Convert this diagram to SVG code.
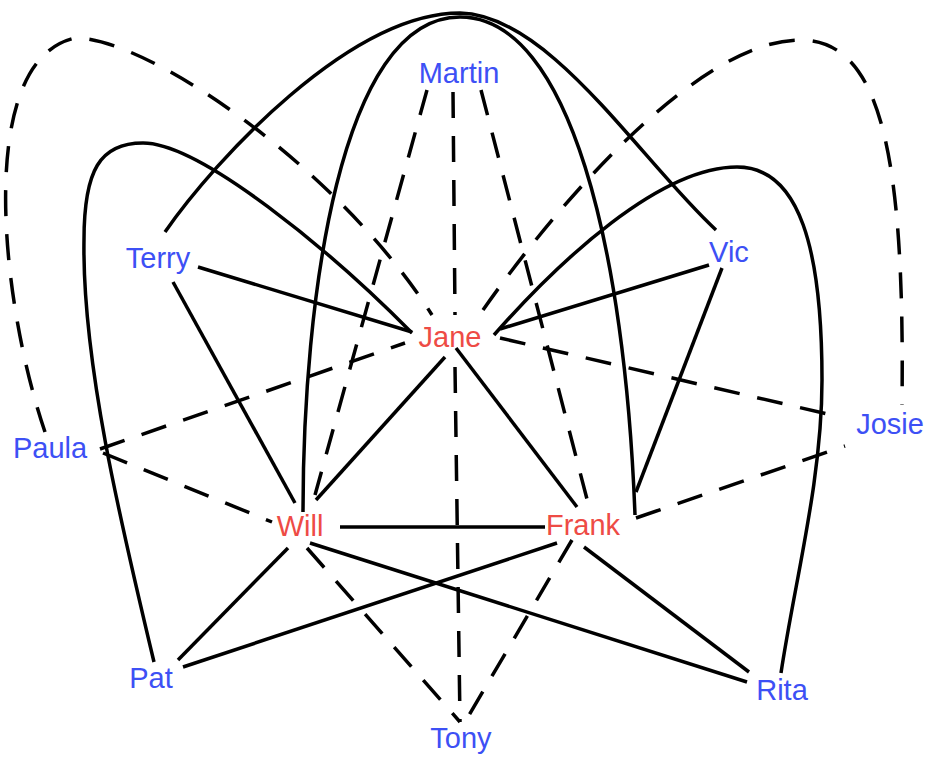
<svg xmlns="http://www.w3.org/2000/svg" width="928" height="758" viewBox="0 0 928 758">
<style>
.e{stroke:#000;stroke-width:3.5;fill:none}
.d{stroke-dasharray:26 18}
.l{font-family:"Liberation Sans",Arial,sans-serif;font-size:29px;text-anchor:middle}
.b{fill:#3d50f5}
.r{fill:#ee4b45}
</style>
<rect width="928" height="758" fill="#fff"/>
<g id="connectors">
<path class="e" d="M198,267 L412,332"/>
<path class="e" d="M173,282 L295,503"/>
<path class="e" d="M445,357 L316,500"/>
<path class="e" d="M456,348 L577,507"/>
<path class="e" d="M500,329 L709,265"/>
<path class="e" d="M722,268 L636,492"/>
<path class="e" d="M340,527 L545,527"/>
<path class="e" d="M288,548 L178,660"/>
<path class="e" d="M310,543 L747,682"/>
<path class="e" d="M557,543 L183,667"/>
<path class="e" d="M584,547 L749,672"/>
<path class="e" d="M165,232 C215,160 350,13 460,13 C550,15 640,160 716,230"/>
<path class="e" d="M303,512 C303,300 340,17 460,17 C570,17 625,250 635,515"/>
<path class="e" d="M154,662 C120,520 82,360 84,240 C84,170 100,143 143,143 C200,143 330,250 412,333"/>
<path class="e" d="M494,335 C560,260 660,167 737,167 C800,167 822,250 822,380 C822,480 795,580 781,673"/>
<path class="e d" d="M453,92 L455,315"/>
<path class="e d" d="M455,367 L460,722"/>
<path class="e d" d="M427,90 L315,495"/>
<path class="e d" d="M481,90 L588,503"/>
<path class="e d" d="M100,449 L405,343"/>
<path class="e d" d="M103,453 L272,522"/>
<path class="e d" d="M500,338 L836,416"/>
<path class="e d" d="M636,518 L845,446"/>
<path class="e d" d="M307,548 L460,722"/>
<path class="e d" d="M572,540 L465,722"/>
<path class="e d" d="M45,432 C0,300 -25,60 75,38 C150,38 340,170 432,315"/>
<path class="e d" d="M483,310 C560,200 700,40 800,40 C880,40 905,150 902,405"/>
</g>
<g id="Martin"><text class="l b" x="459" y="83">Martin</text></g>
<g id="Terry"><text class="l b" x="158" y="268">Terry</text></g>
<g id="Vic"><text class="l b" x="729" y="262">Vic</text></g>
<g id="Jane"><text class="l r" x="450" y="347">Jane</text></g>
<g id="Paula"><text class="l b" x="50" y="458">Paula</text></g>
<g id="Josie"><text class="l b" x="890" y="434">Josie</text></g>
<g id="Will"><text class="l r" x="300" y="536">Will</text></g>
<g id="Frank"><text class="l r" x="583" y="535">Frank</text></g>
<g id="Pat"><text class="l b" x="151" y="688">Pat</text></g>
<g id="Rita"><text class="l b" x="782" y="700">Rita</text></g>
<g id="Tony"><text class="l b" x="461" y="748">Tony</text></g>
</svg>
